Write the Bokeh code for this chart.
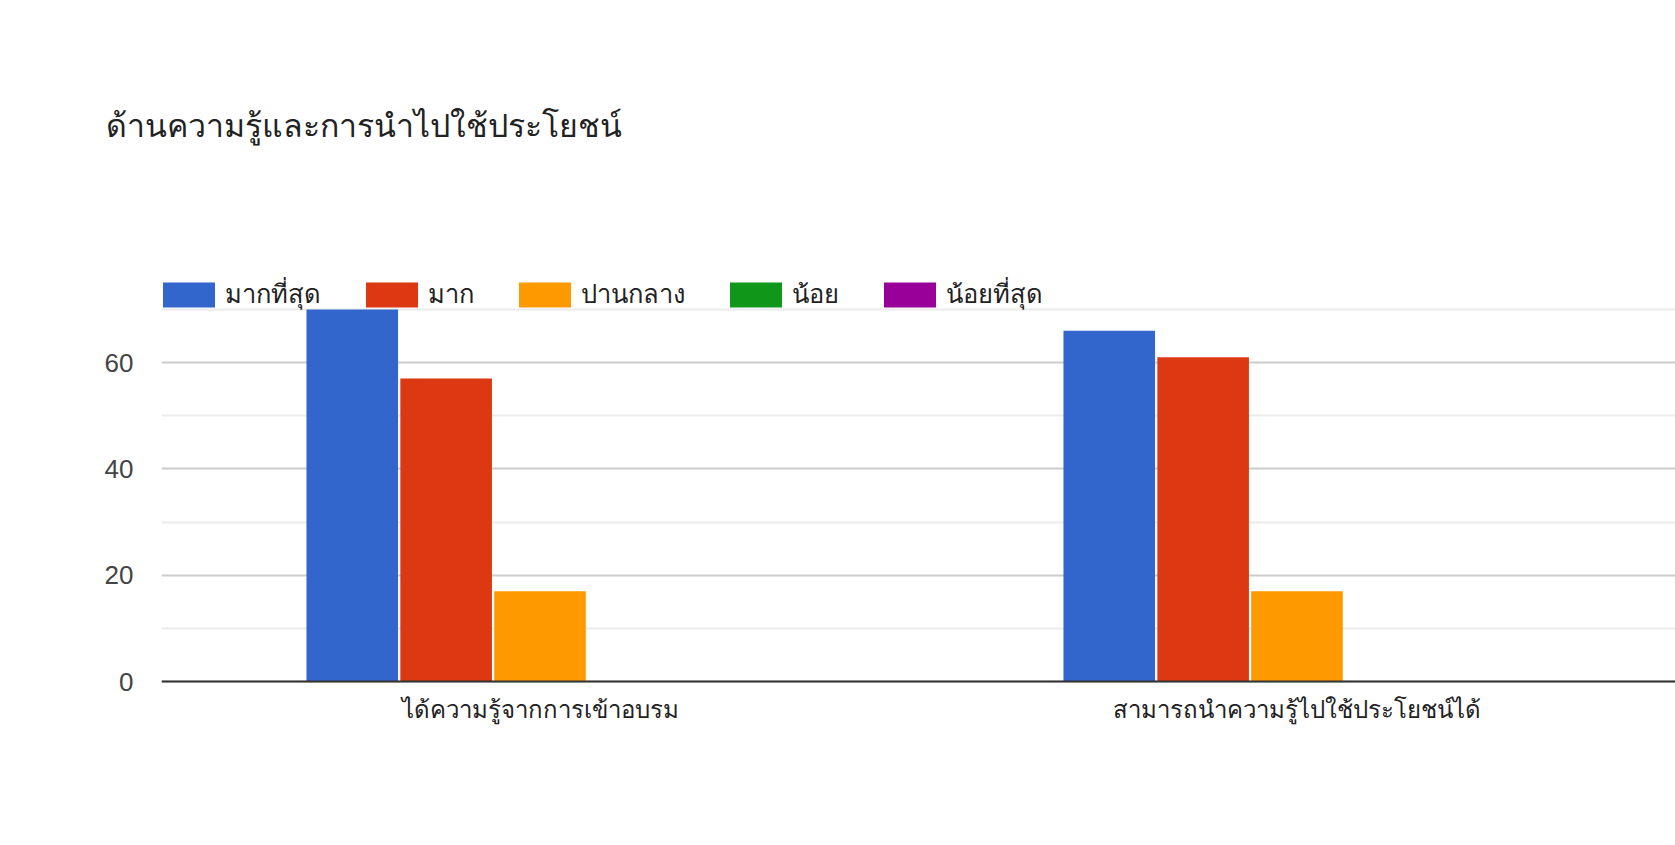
from bokeh.plotting import figure
from bokeh.models import (ColumnDataSource, FactorRange, FixedTicker, Legend, LegendItem,
                          Span)
from bokeh.transform import dodge
from bokeh.embed import file_html
from bokeh.resources import INLINE

title_text = "ด้านความรู้และการนำไปใช้ประโยชน์"
categories = ["ได้ความรู้จากการเข้าอบรม", "สามารถนำความรู้ไปใช้ประโยชน์ได้"]
series = ["มากที่สุด", "มาก", "ปานกลาง", "น้อย", "น้อยที่สุด"]
colors = ["#3366cc", "#dc3912", "#ff9900", "#109618", "#990099"]
v_most = [70, 66]
v_much = [57, 61]
v_mid = [17, 17]
v_little = [0, 0]
v_least = [0, 0]
y_ticks = [0, 20, 40, 60]
y_minor = [10, 30, 50, 70]

FONT = "Roboto"
TICK_FONT = "Liberation Sans"

source = ColumnDataSource(dict(cat=categories, s0=v_most, s1=v_much, s2=v_mid,
                               s3=v_little, s4=v_least))

TOP = 144          # frame top (canvas px)
BASE = 681         # canvas px of value 0
BOTTOM = 684       # frame bottom (canvas px)
px_per_unit = 372 / 70.0
p = figure(x_range=FactorRange(*categories),
           y_range=(-(BOTTOM - BASE) / px_per_unit, (BASE - TOP) / px_per_unit),
           width=1675, height=845, output_backend="svg", toolbar_location=None,
           min_border_left=161, min_border_right=0, min_border_top=TOP,
           min_border_bottom=845 - BOTTOM)
p.outline_line_color = None
p.background_fill_color = "white"
p.border_fill_color = "white"

p.title.text = title_text
p.title.align = "left"
p.title.offset = -56
p.title.standoff = 0
p.title.text_font = FONT
p.title.text_font_size = "32px"
p.title.text_font_style = "normal"
p.title.text_color = "#222222"

step = 0.124
renderers = []
for i, (name, col) in enumerate(zip(series, colors)):
    r = p.vbar(x=dodge("cat", (i - 2) * step, range=p.x_range), top="s%d" % i,
               width=0.121, source=source, fill_color=col, line_color=None)
    renderers.append(r)

p.add_layout(Span(location=0, dimension="width", line_color="#333333", line_width=2))

# axes
p.yaxis.ticker = FixedTicker(ticks=y_ticks, minor_ticks=y_minor)
p.yaxis.axis_line_color = None
p.yaxis.major_tick_line_color = None
p.yaxis.minor_tick_line_color = None
p.yaxis.major_tick_out = 0
p.yaxis.minor_tick_out = 0
p.yaxis.major_label_standoff = 28
p.yaxis.major_label_text_font = TICK_FONT
p.yaxis.major_label_text_font_size = "26px"
p.yaxis.major_label_text_color = "#444444"

p.xaxis.axis_line_color = None
p.xaxis.major_tick_line_color = None
p.xaxis.minor_tick_line_color = None
p.xaxis.major_tick_out = 0
p.xaxis.major_label_standoff = 11
p.xaxis.major_label_text_font = FONT
p.xaxis.major_label_text_font_size = "24px"
p.xaxis.major_label_text_color = "#222222"

p.xgrid.grid_line_color = None
p.ygrid.grid_line_color = "#cccccc"
p.ygrid.grid_line_width = 2
p.ygrid.minor_grid_line_color = "#ebebeb"
p.ygrid.minor_grid_line_width = 2

legend = Legend(items=[LegendItem(label=s, renderers=[r]) for s, r in zip(series, renderers)],
                orientation="horizontal", location=(-5.5, 367 + (BOTTOM - BASE)),
                glyph_width=65, glyph_height=31, label_standoff=4, spacing=38,
                label_height=31,
                padding=0, margin=0, border_line_color=None,
                label_text_font=FONT, label_text_font_size="25.5px",
                label_text_color="#222222", background_fill_color="white",
                background_fill_alpha=0)
p.add_layout(legend, "center")

open("out.html", "w").write(file_html(p, INLINE))
